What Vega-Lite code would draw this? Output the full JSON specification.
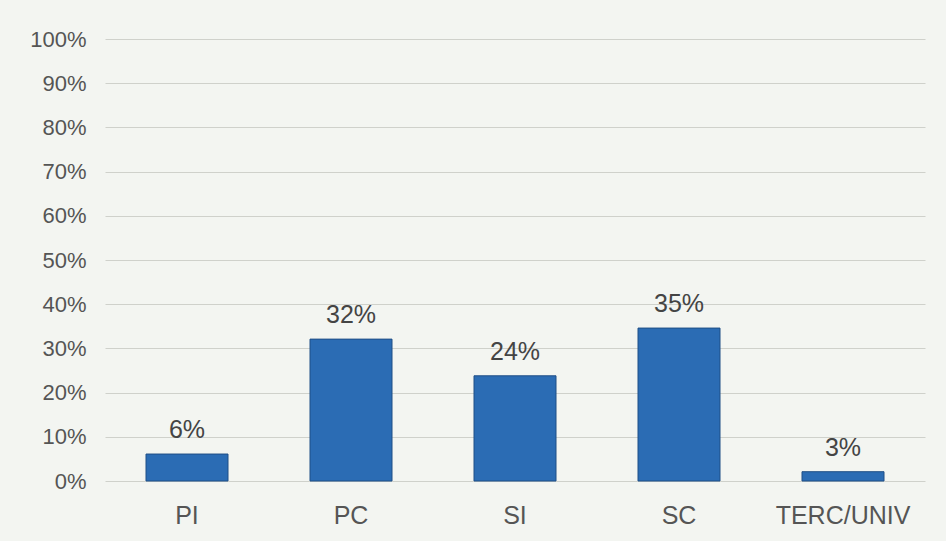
{
  "$schema": "https://vega.github.io/schema/vega-lite/v6.json",
  "autosize": {"type": "none"},
  "width": 820,
  "height": 442,
  "padding": {"left": 105, "top": 39, "right": 21, "bottom": 60},
  "background": "#f3f5f1",
  "config": {
    "view": {"stroke": null},
    "font": "Liberation Sans"
  },
  "data": {
    "values": [
      {"cat": "PI", "value": 0.061, "label": "6%"},
      {"cat": "PC", "value": 0.321, "label": "32%"},
      {"cat": "SI", "value": 0.238, "label": "24%"},
      {"cat": "SC", "value": 0.346, "label": "35%"},
      {"cat": "TERC/UNIV", "value": 0.021, "label": "3%"}
    ]
  },
  "encoding": {
    "x": {
      "field": "cat", "type": "nominal", "sort": null,
      "scale": {"paddingInner": 0.5, "paddingOuter": 0.25},
      "axis": {"title": null, "labelAngle": 0, "labelFontSize": 25, "labelColor": "#555555", "labelPadding": 22, "ticks": false, "domain": false}
    },
    "y": {
      "field": "value", "type": "quantitative",
      "scale": {"domain": [0, 1]},
      "axis": {"title": null, "format": ".0%", "values": [0,0.1,0.2,0.3,0.4,0.5,0.6,0.7,0.8,0.9,1], "labelFontSize": 22, "labelColor": "#555555", "labelPadding": 19, "ticks": false, "domain": false, "gridColor": "#cfd1cb", "gridWidth": 1}
    }
  },
  "layer": [
    {"mark": {"type": "bar", "color": "#2b6cb4", "stroke": "#1f4e86", "strokeWidth": 1}},
    {"mark": {"type": "text", "dy": -24, "fontSize": 25, "color": "#444444"},
     "encoding": {"text": {"field": "label"}}}
  ]
}
